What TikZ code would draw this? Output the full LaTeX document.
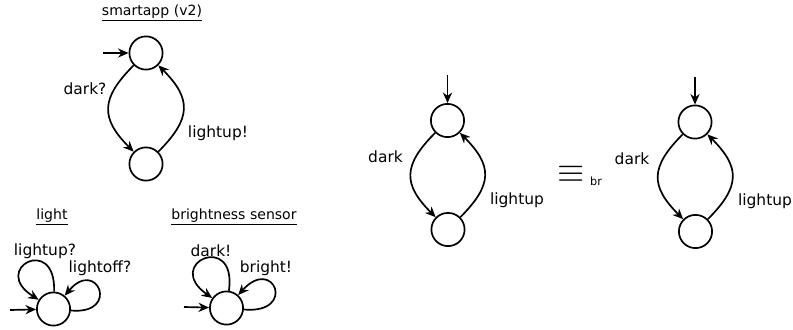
\documentclass[tikz,border=0pt]{standalone}
\usepackage{fontspec}
\setmainfont{DejaVu Sans}
\usetikzlibrary{arrows.meta}
\tikzset{
	state/.style={draw, circle, line width=1.2pt, minimum size=0.83cm, inner sep=0pt},
	arr/.style={line width=1.2pt, -{Stealth[length=7.5pt,width=6.5pt]}},
	lbl/.style={inner sep=0pt, font=\fontsize{11}{13}\selectfont},
	ttl/.style={inner sep=0pt, font=\fontsize{10}{12}\selectfont},
}

\begin{document}
\begin{tikzpicture}[x=0.025cm, y=-0.025cm]
			%%%%% START %%%%%
			\useasboundingbox (0, 0) rectangle (793, 329);
			
			% smartapp (v2)
			\node[ttl] (satitle) at (152, 13) {\underline{smartapp (v2)}};
			\node[state] (sa1) at (146, 53) {};
			\node[state] (sa2) at (146, 164) {};
			\coordinate (sain) at (103, 53);
			\draw[arr] (sain) -- (sa1);
			\draw[arr] (sa1) to[out=225, in=135, looseness=1.4] (sa2);
			\draw[arr] (sa2) to[out=45, in=-45, looseness=1.4] (sa1);
			\node[lbl] (sadark) at (85, 89) {dark?};
			\node[lbl] (salight) at (218, 133) {lightup!};
			
			% light
			\node[ttl] (lttitle) at (52, 217) {\underline{light}};
			\node[state] (lt) at (53.5, 309) {};
			\coordinate (ltin) at (10, 310);
			\draw[arr] (ltin) -- (lt);
			\draw[arr] (lt) to[out=88, in=148, looseness=8.5] (lt);
			\draw[arr] (lt) to[out=-5, in=50, looseness=8] (lt);
			\node[lbl] (ltup) at (45, 251) {lightup?};
			\node[lbl] (ltoff) at (100, 268) {lightoff?};
			
			% brightness sensor
			\node[ttl] (bstitle) at (234, 217) {\underline{brightness sensor}};
			\node[state] (bs) at (226.5, 308) {};
			\coordinate (bsin) at (184, 307);
			\draw[arr] (bsin) -- (bs);
			\draw[arr] (bs) to[out=82, in=145, looseness=8.5] (bs);
			\draw[arr] (bs) to[out=-5, in=48, looseness=8.8] (bs);
			\node[lbl] (bsdark) at (211, 251) {dark!};
			\node[lbl] (bsbright) at (266, 268) {bright!};
			
			% left composition
			\node[state] (la) at (447.5, 120.5) {};
			\node[state] (lb) at (448, 229.5) {};
			\coordinate (lain) at (447.5, 75);
			\draw[arr] (lain) -- (la);
			\draw[arr] (la) to[out=225, in=135, looseness=1.4] (lb);
			\draw[arr] (lb) to[out=45, in=-45, looseness=1.4] (la);
			\node[lbl] (ladark) at (385.5, 157) {dark};
			\node[lbl] (lalight) at (517, 200) {lightup};
			
			% equivalence
			\node[inner sep=0pt, font=\fontsize{33}{33}\selectfont] (eq) at (571.5, 174) {$\equiv$};
			\node[inner sep=0pt, font=\fontsize{8}{9}\selectfont] (eqbr) at (596, 181) {br};
			
			% right composition
			\node[state] (ra) at (695, 122) {};
			\node[state] (rb) at (695.5, 231.5) {};
			\coordinate (rain) at (695, 77);
			\draw[arr] (rain) -- (ra);
			\draw[arr] (ra) to[out=225, in=135, looseness=1.4] (rb);
			\draw[arr] (rb) to[out=45, in=-45, looseness=1.4] (ra);
			\node[lbl] (radark) at (632, 159) {dark};
			\node[lbl] (ralight) at (765, 201) {lightup};
			%%%%% END %%%%%
\end{tikzpicture}
\end{document}
